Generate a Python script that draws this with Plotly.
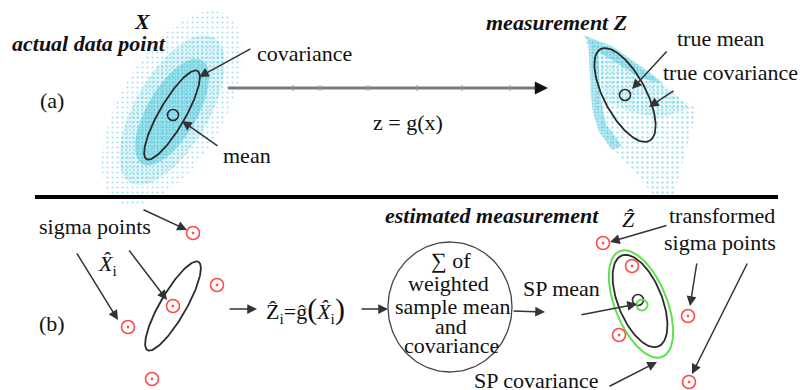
import numpy as np
import plotly.graph_objects as go

W, H = 803, 390
FONT = "Liberation Serif"
CYAN = "#45c3d9"
RED = "#ff4a4a"
GREEN = "#5ee04f"
INK = "#2b2b2b"

# ---------------- data: labels ----------------
label_text = [
    "<b><i>X</i></b>", "<b><i>actual data point</i></b>", "covariance", "(a)", "mean",
    "z = g(x)", "<b><i>measurement Z</i></b>", "true mean", "true covariance",
    "sigma points", "(b)", "<b><i>estimated measurement</i></b>", "<i>Z\u0302</i>",
    "transformed", "sigma points", "SP mean", "SP covariance",
    "\u2211 of", "weighted", "sample mean", "and", "covariance",
    "<i>X\u0302</i><sub>i</sub>",
    "Z\u0302<sub>i</sub>=\u011d<span style='font-size:30px'>(</span><i>X\u0302</i><sub>i</sub><span style='font-size:30px'>)</span>",
]
label_x = [142, 89, 304, 52, 247, 408, 556, 720, 730,
           95, 52, 492, 628, 722, 720, 561, 536,
           451, 448, 452, 451, 451, 107, 305]
label_y = [21, 43, 53, 100, 155, 122, 22, 38, 72,
           226, 323, 215, 219, 215, 242, 288, 380,
           260, 283, 306, 326, 345, 265, 309]

# ---------------- data: sigma points ----------------
sigma_x = [193, 217, 173, 128, 152]
sigma_y = [233, 285, 306, 327, 379]
tsigma_x = [603, 632, 619, 688, 689]
tsigma_y = [243, 266, 335, 316, 382]

# ---------------- data: ellipses (cx, cy, a, b, angle deg) ----------------
ell_black = [(172, 115, 51, 13, -60), (625, 95, 52, 21, 62),
             (173, 306, 51, 13, -60), (640, 301, 49, 22, 68)]
ell_green = [(641, 304, 57, 26, 68)]
big_circle = (450, 307, 62, 65, 0)

mean_black_x = [173, 625, 638]
mean_black_y = [115, 95, 300]
mean_green_x = [642]
mean_green_y = [305]

# ---------------- data: arrows (tail -> tip) ----------------
arrows = [
    (252, 48, 199, 77), (219, 147, 182, 121),
    (668, 50, 632, 89), (675, 90, 649, 107),
    (142, 209, 187, 230), (76, 252, 118, 320), (128, 249, 167, 300),
    (228, 309, 257, 309), (360, 309, 388, 309), (512, 311, 545, 312),
    (580, 315, 637, 304), (608, 387, 657, 362),
    (668, 225, 610, 242), (697, 262, 690, 306), (748, 262, 692, 374),
]
main_arrow = (228, 88, 548, 88)
main_ticks = [293, 320, 368, 417, 462, 510]

# ---------------- data: scatter clouds ----------------
cloud_left = [  # nested density layers (cx, cy, a, b, angle, grid, solidity, bg alpha)
    (172, 108, 108, 52, -60, 5, 0.14, 0.0),
    (172, 110, 84, 37, -60, 4, 0.2, 0.16),
    (172, 112, 60, 25, -60, 3, 0.3, 0.38),
]
cloud_right_outer = [(583, 35), (610, 47), (650, 75), (677, 95), (697, 110), (690, 135),
                     (683, 160), (673, 200), (657, 200), (637, 174), (617, 153),
                     (603, 131), (597, 113), (595, 97), (592, 57)]
cloud_right_mid = [(590, 40), (620, 55), (660, 82), (690, 108), (660, 118), (630, 112),
                   (605, 100), (598, 70)]
cloud_right_dense = [[(583, 35), (612, 46), (652, 74), (664, 84), (640, 78), (612, 60), (595, 50)],
                     [(588, 40), (598, 55), (601, 100), (606, 124), (622, 146), (612, 150),
                      (599, 132), (593, 113), (591, 97), (589, 57)]]


def ellipse_xy(cx, cy, a, b, deg, n=160):
    t = np.linspace(0, 2 * np.pi, n)
    th = np.deg2rad(deg)
    x = cx + a * np.cos(t) * np.cos(th) - b * np.sin(t) * np.sin(th)
    y = cy + a * np.cos(t) * np.sin(th) + b * np.sin(t) * np.cos(th)
    return x, y


fig = go.Figure()


def pattern_fill(xs, ys, grid, solid, bg_alpha):
    fig.add_trace(go.Scatter(
        x=list(xs), y=list(ys), mode="lines", fill="toself",
        line=dict(width=0, color="rgba(0,0,0,0)"),
        fillpattern=dict(shape=".", fgcolor=CYAN, size=grid, solidity=solid,
                         bgcolor=f"rgba(69,195,217,{bg_alpha})"),
        hoverinfo="skip"))


# clouds
for cx, cy, a, b, ang, g, s, al in cloud_left:
    ex, ey = ellipse_xy(cx, cy, a, b, ang)
    pattern_fill(ex, ey, g, s, al)

pattern_fill([p[0] for p in cloud_right_outer], [p[1] for p in cloud_right_outer], 5, 0.18, 0.0)
pattern_fill([p[0] for p in cloud_right_mid], [p[1] for p in cloud_right_mid], 4, 0.22, 0.1)
for poly in cloud_right_dense:
    pattern_fill([p[0] for p in poly], [p[1] for p in poly], 3, 0.35, 0.35)

# ellipses
for e in ell_black:
    ex, ey = ellipse_xy(*e)
    fig.add_trace(go.Scatter(x=ex, y=ey, mode="lines", line=dict(color=INK, width=1.8), hoverinfo="skip"))
for e in ell_green:
    ex, ey = ellipse_xy(*e)
    fig.add_trace(go.Scatter(x=ex, y=ey, mode="lines", line=dict(color=GREEN, width=2), hoverinfo="skip"))
ex, ey = ellipse_xy(*big_circle)
fig.add_trace(go.Scatter(x=ex, y=ey, mode="lines", line=dict(color="#444", width=1.3), hoverinfo="skip"))

# means
fig.add_trace(go.Scatter(x=mean_black_x, y=mean_black_y, mode="markers",
                         marker=dict(symbol="circle-open", size=11, color=INK, line=dict(width=1.6)),
                         hoverinfo="skip"))
fig.add_trace(go.Scatter(x=mean_green_x, y=mean_green_y, mode="markers",
                         marker=dict(symbol="circle-open", size=11, color=GREEN, line=dict(width=2)),
                         hoverinfo="skip"))

# sigma points
fig.add_trace(go.Scatter(x=sigma_x + tsigma_x, y=sigma_y + tsigma_y, mode="markers",
                         marker=dict(symbol="circle-open-dot", size=13, color=RED, line=dict(width=1.6)),
                         hoverinfo="skip"))

# main transformation arrow with its tick marks
x0, y0, x1, y1 = main_arrow
fig.add_trace(go.Scatter(x=[x0, x1 - 6], y=[y0, y1], mode="lines",
                         line=dict(color="#7a7a7a", width=3), hoverinfo="skip"))
tx, ty = [], []
for t in main_ticks:
    tx += [t, t, None]
    ty += [y0 - 3, y0 + 3, None]
fig.add_trace(go.Scatter(x=tx, y=ty, mode="lines", line=dict(color="#9a9a9a", width=1), hoverinfo="skip"))

annotations = []
annotations.append(dict(x=x1, y=y1, ax=x1 - 12, ay=y1, xref="x", yref="y", axref="x", ayref="y",
                        text="", showarrow=True, arrowhead=2, arrowsize=1.2, arrowwidth=2.2,
                        arrowcolor="#111", standoff=0))
for (ax_, ay_, x_, y_) in arrows:
    annotations.append(dict(x=x_, y=y_, ax=ax_, ay=ay_, xref="x", yref="y", axref="x", ayref="y",
                            text="", showarrow=True, arrowhead=2, arrowsize=1.3, arrowwidth=1.5,
                            arrowcolor="#333", standoff=0))
for t, x, y in zip(label_text, label_x, label_y):
    annotations.append(dict(x=x, y=y, xref="x", yref="y", text=t, showarrow=False,
                            xanchor="center", yanchor="middle",
                            font=dict(family=FONT, size=22, color="#111")))

fig.update_layout(
    width=W, height=H, margin=dict(l=0, r=0, t=0, b=0),
    paper_bgcolor="white", plot_bgcolor="white", showlegend=False,
    font=dict(family=FONT),
    xaxis=dict(range=[0, W], visible=False, fixedrange=True),
    yaxis=dict(range=[H, 0], visible=False, fixedrange=True),
    annotations=annotations,
    shapes=[dict(type="line", x0=35, y0=197, x1=778, y1=197, xref="x", yref="y",
                 line=dict(color="#000", width=4))],
)

fig.write_html("out.html")
